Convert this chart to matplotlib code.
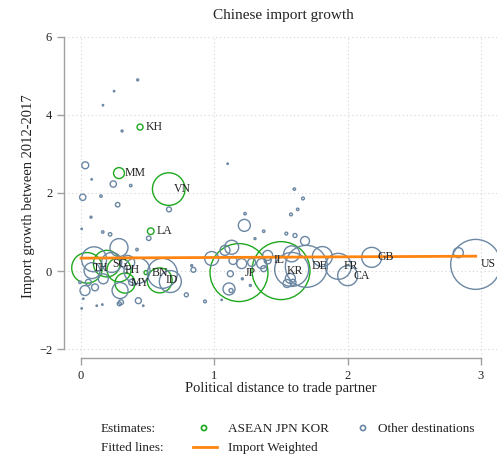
import numpy as np
import matplotlib
matplotlib.use("Agg")
import matplotlib.pyplot as plt
from matplotlib.lines import Line2D

plt.rcParams["font.family"] = ["Liberation Serif", "DejaVu Serif"]

# ASEAN, Japan and Korea: political distance, import growth, import weight
asean_codes = ["KH", "MM", "VN", "LA", "TH", "SG", "PH", "MY", "BN", "ID", "JP", "KR"]
asean_dist = [0.443, 0.285, 0.658, 0.523, 0.045, 0.193, 0.285, 0.33, 0.488, 0.59, 1.185, 1.50]
asean_growth = [3.69, 2.51, 2.10, 1.02, 0.08, 0.19, 0.03, -0.31, -0.04, -0.24, -0.04, 0.01]
asean_weight = [9, 30, 266, 11, 234, 177, 144, 100, 4, 156, 841, 841]

# labelled other destinations
other_codes = ["IL", "DE", "FR", "CA", "GB", "US"]
other_lab_dist = [1.40, 1.69, 1.93, 2.00, 2.18, 2.96]
other_lab_growth = [0.27, 0.12, 0.12, -0.12, 0.35, 0.17]
other_lab_weight = [12, 441, 169, 100, 100, 625]

# remaining destinations (unlabelled)
other_dist = [0.425, 0.248, 0.165, 0.308, 0.032, 0.08, 0.242, 0.373, 0.013, 0.15,
              0.275, 0.66, 1.10, 1.60, 1.665, 1.625, 0.075, 0.163, 0.218, 0.005,
              0.508, 0.42, 0.285, 0.098, 0.083, 0.03, 0.105, 0.055, 0.167, 0.293,
              0.43, 0.30, 0.287, 0.118, 0.16, 0.017, 0.467, 0.005, -0.008, 0.38,
              0.61, 0.67, 0.42, 0.23, 0.35, 0.843, 0.83, 0.79, 0.93, 1.055,
              1.11, 1.125, 1.27, 1.21, 1.23, 1.575, 1.225, 1.37, 1.305, 1.54,
              1.605, 1.68, 1.13, 1.08, 0.98, 1.40, 1.37, 1.355, 1.58, 1.57,
              1.59, 1.58, 1.545, 1.205, 1.14, 1.12, 1.28, 1.81, 2.83]
other_growth = [4.90, 4.61, 4.25, 3.59, 2.71, 2.35, 2.23, 2.19, 1.89, 1.92,
                1.70, 1.58, 2.75, 2.10, 1.86, 1.58, 1.38, 1.00, 0.94, 1.08,
                0.84, 0.55, 0.60, 0.30, 0.01, -0.50, -0.42, -0.29, -0.20, -0.50,
                -0.76, -0.80, -0.84, -0.89, -0.86, -0.71, -0.89, -0.96, -0.29, -0.29,
                -0.06, -0.27, 0.01, 0.22, 0.22, 0.03, 0.14, -0.61, -0.78, -0.74,
                -0.46, -0.50, -0.37, -0.20, 1.47, 1.45, 1.17, 1.02, 0.83, 0.96,
                0.91, 0.77, 0.61, 0.53, 0.32, 0.40, 0.06, 0.19, 0.44, -0.19,
                -0.29, 0.04, -0.32, 0.19, 0.27, -0.07, 0.22, 0.37, 0.47]
other_weight = [1, 0.5, 0.5, 1, 12, 0.5, 10, 1.5, 10, 1.5,
                5, 6, 0.5, 1.5, 2, 1.5, 1, 1.5, 3, 0.5,
                5, 1.5, 81, 156, 64, 25, 12, 9, 25, 64,
                9, 6, 4, 0.5, 0.5, 0.5, 0.5, 0.5, 1.5, 9,
                225, 121, 169, 100, 49, 6, 1, 4, 2, 0.5,
                36, 4, 1, 1, 1.5, 2, 36, 1.5, 1, 2,
                4, 20, 49, 25, 49, 25, 9, 25, 64, 25,
                9, 289, 16, 25, 16, 9, 16, 100, 25]

# import-weighted linear fit
fit_x = [0.0, 2.96]
fit_y = [0.33, 0.38]

GREEN = "#1ea81e"
SLATE = "#6b87a3"
ORANGE = "#ff8410"
SIZE = 2.07  # weight -> marker area

fig = plt.figure(figsize=(5.01, 4.59), dpi=100)
ax = fig.add_axes([64 / 501, 101 / 459, 433 / 501, 323 / 459])
ax.set_xlim(-0.1275, 3.12)
ax.set_ylim(-2.23, 6.05)

ax.scatter(asean_dist, asean_growth, s=SIZE * np.array(asean_weight),
           facecolors="none", edgecolors=GREEN, linewidths=1.0, zorder=3)
all_dist = other_dist + other_lab_dist
all_growth = other_growth + other_lab_growth
all_weight = other_weight + other_lab_weight
ax.scatter(all_dist, all_growth, s=SIZE * np.array(all_weight),
           facecolors="none", edgecolors=SLATE, linewidths=1.0, zorder=3)
ax.plot(fit_x, fit_y, color=ORANGE, lw=2.0, zorder=4)

for c, x, y in zip(asean_codes + other_codes, asean_dist + other_lab_dist,
                   asean_growth + other_lab_growth):
    ax.annotate(c, (x, y), xytext=(4, 0), textcoords="offset points",
                ha="left", va="center", fontsize=8.5, color="#222222", zorder=5)

# axes styling
for side in ["top", "right"]:
    ax.spines[side].set_visible(False)
ax.spines["left"].set_bounds(-2, 6)
ax.spines["bottom"].set_bounds(0, 3)
for side in ["left", "bottom"]:
    ax.spines[side].set_color("#a0a0a0")
    ax.spines[side].set_linewidth(1.0)
ax.set_xticks([0, 1, 2, 3])
ax.set_yticks([-2, 0, 2, 4, 6])
ax.tick_params(colors="#a0a0a0", labelcolor="#222222", labelsize=9, length=5, width=1.0)
ax.grid(True, color="#d4d4d4", linestyle=(0, (1, 2.5)), linewidth=0.8, zorder=0)
ax.set_axisbelow(True)

ax.set_xlabel("Political distance to trade partner", fontsize=10.5, labelpad=0, color="#222222")
ax.set_ylabel("Import growth between 2012-2017", fontsize=10.5, labelpad=3, color="#222222")
fig.text(283 / 501, 1 - 16 / 459, "Chinese import growth", ha="center", va="center",
         fontsize=11, color="#222222")

# legend block under the plot
lg = fig.add_axes([0, 0, 1, 1], facecolor="none")
lg.set_xlim(0, 501)
lg.set_ylim(459, 0)
lg.axis("off")
lg.text(101, 429, "Estimates:", fontsize=9.5, va="center", color="#222222")
lg.text(101, 448, "Fitted lines:", fontsize=9.5, va="center", color="#222222")
lg.scatter([204], [428], s=14, facecolors="none", edgecolors=GREEN, linewidths=1.2)
lg.text(228, 429, "ASEAN JPN KOR", fontsize=9.5, va="center", color="#222222")
lg.scatter([363], [428], s=14, facecolors="none", edgecolors=SLATE, linewidths=1.2)
lg.text(378, 429, "Other destinations", fontsize=9.5, va="center", color="#222222")
lg.add_line(Line2D([193, 217], [447, 447], color=ORANGE, lw=2.0))
lg.text(228, 448, "Import Weighted", fontsize=9.5, va="center", color="#222222")

fig.savefig("out.png", dpi=100)
